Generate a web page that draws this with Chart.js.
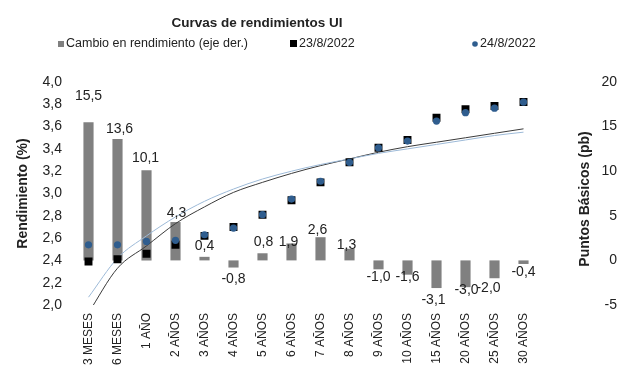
<!DOCTYPE html>
<html>
<head>
<meta charset="utf-8">
<script src="https://cdn.jsdelivr.net/npm/chart.js@4"></script>
<style>
  html, body { margin: 0; padding: 0; background: #fff; }
  #wrap { width: 617px; height: 379px; position: relative; }
</style>
</head>
<body>
<div id="wrap"><canvas id="curveChart"></canvas></div>
<script>
// plazos
const categories = ['3 MESES', '6 MESES', '1 AÑO', '2 AÑOS', '3 AÑOS', '4 AÑOS', '5 AÑOS', '6 AÑOS',
    '7 AÑOS', '8 AÑOS', '9 AÑOS', '10 AÑOS', '15 AÑOS', '20 AÑOS', '25 AÑOS', '30 AÑOS'];

// cambio en rendimiento (pb, eje derecho)
const changeBp = [15.5, 13.6, 10.1, 4.3, 0.4, -0.8, 0.8, 1.9, 2.6, 1.3, -1.0, -1.6, -3.1, -3.0, -2.0, -0.4];

// rendimientos (%)
const yield23 = [2.39, 2.41, 2.46, 2.54, 2.62, 2.70, 2.81, 2.94, 3.10, 3.28, 3.41, 3.48, 3.68, 3.755, 3.785, 3.82];
const yield24 = [2.54, 2.54, 2.57, 2.58, 2.63, 2.69, 2.81, 2.95, 3.11, 3.28, 3.41, 3.47, 3.65, 3.725, 3.765, 3.82];

// lineas de tendencia
const trend23 = [1.93, 2.33, 2.53, 2.73, 2.88, 3.01, 3.10, 3.18, 3.25, 3.31, 3.37, 3.42, 3.46, 3.50, 3.54, 3.58];
const trend24 = [2.07, 2.42, 2.62, 2.79, 2.93, 3.04, 3.13, 3.20, 3.26, 3.31, 3.36, 3.40, 3.44, 3.48, 3.52, 3.55];

// ticks
const leftTicks = [2.0, 2.2, 2.4, 2.6, 2.8, 3.0, 3.2, 3.4, 3.6, 3.8, 4.0];
const rightTicks = [-5, 0, 5, 10, 15, 20];

// separacion de etiquetas respecto al extremo de la barra (px)
const labelGap = [26, 10, 12, 9, 11, 12, 11, 1, 7, 4, 8, 2, 12, 3, 10, 8];
const labelShiftX = [0, 2, -1, 1, 0, 0, 1, -3, -3, -3, 0, 0, -3, 1, -6, 0];

const fmt = v => v.toFixed(1).replace('.', ',');
const FONT = 'Liberation Sans, Arial, sans-serif';
const TEXT = '#222';

const barLabels = {
    id: 'barLabels',
    afterDatasetsDraw(chart) {
        const idx = chart.data.datasets.findIndex(d => d.type === 'bar');
        const meta = chart.getDatasetMeta(idx);
        const ctx = chart.ctx;
        ctx.save();
        ctx.font = '14px ' + FONT;
        ctx.fillStyle = TEXT;
        ctx.textAlign = 'center';
        ctx.textBaseline = 'middle';
        meta.data.forEach((bar, i) => {
            const v = changeBp[i];
            const y = v >= 0 ? bar.y - labelGap[i] : bar.y + labelGap[i];
            ctx.fillText(fmt(v), bar.x + labelShiftX[i], y);
        });
        ctx.restore();
    }
};

const header = {
    id: 'header',
    afterDraw(chart) {
        const ctx = chart.ctx;
        ctx.save();
        ctx.fillStyle = TEXT;
        ctx.textBaseline = 'middle';
        ctx.textAlign = 'center';
        ctx.font = 'bold 13.5px ' + FONT;
        ctx.fillText('Curvas de rendimientos UI', 257, 23);

        // right axis title, reading bottom to top
        ctx.save();
        ctx.translate(585, 199);
        ctx.rotate(-Math.PI / 2);
        ctx.font = 'bold 14px ' + FONT;
        ctx.fillText('Puntos Básicos (pb)', 0, 0);
        ctx.restore();

        ctx.textAlign = 'left';
        ctx.font = '12.5px ' + FONT;
        // legend
        ctx.fillStyle = '#808080';
        ctx.fillRect(58, 41, 6, 6);
        ctx.fillStyle = TEXT;
        ctx.fillText('Cambio en rendimiento (eje der.)', 66, 44);

        ctx.fillStyle = '#000';
        ctx.fillRect(290, 40, 7, 7);
        ctx.fillStyle = TEXT;
        ctx.fillText('23/8/2022', 299, 44);

        ctx.fillStyle = '#2F5D8E';
        ctx.beginPath();
        ctx.arc(475, 44, 2.8, 0, Math.PI * 2);
        ctx.fill();
        ctx.fillStyle = TEXT;
        ctx.fillText('24/8/2022', 480, 44);
        ctx.restore();
    }
};

new Chart(document.getElementById('curveChart'), {
    data: {
        labels: categories,
        datasets: [
            {
                type: 'line',
                label: '24/8/2022',
                data: yield24,
                yAxisID: 'y',
                showLine: false,
                pointStyle: 'circle',
                pointRadius: 3.6,
                pointBackgroundColor: '#2F5D8E',
                pointBorderWidth: 0,
                order: 1
            },
            {
                type: 'line',
                label: '23/8/2022',
                data: yield23,
                yAxisID: 'y',
                showLine: false,
                pointStyle: 'rect',
                pointRadius: 5.6,
                pointBackgroundColor: '#000',
                pointBorderWidth: 0,
                order: 2
            },
            {
                type: 'line',
                label: 'Tendencia 23/8',
                data: trend23,
                yAxisID: 'y',
                borderColor: '#3a3a3a',
                borderWidth: 1,
                pointRadius: 0,
                cubicInterpolationMode: 'monotone',
                order: 4
            },
            {
                type: 'line',
                label: 'Tendencia 24/8',
                data: trend24,
                yAxisID: 'y',
                borderColor: '#9DBAD8',
                borderWidth: 1,
                pointRadius: 0,
                cubicInterpolationMode: 'monotone',
                order: 3
            },
            {
                type: 'bar',
                label: 'Cambio en rendimiento (eje der.)',
                data: changeBp,
                yAxisID: 'y1',
                backgroundColor: '#808080',
                categoryPercentage: 1,
                barPercentage: 0.35,
                order: 10
            }
        ]
    },
    options: {
        responsive: true,
        maintainAspectRatio: false,
        animation: false,
        layout: { padding: { top: 82, left: 0, right: 0, bottom: 0 } },
        plugins: {
            legend: { display: false },
            title: { display: false },
            tooltip: { enabled: false }
        },
        scales: {
            x: {
                grid: { display: false, drawTicks: false },
                border: { display: false },
                ticks: {
                    color: TEXT,
                    font: { family: FONT, size: 12 },
                    minRotation: 90,
                    maxRotation: 90,
                    autoSkip: false,
                    padding: 8
                },
                afterFit: s => { s.height = 74; }
            },
            y: {
                position: 'left',
                min: 2,
                max: 4,
                grid: { display: false, drawTicks: false },
                border: { display: false },
                afterBuildTicks: s => { s.ticks = leftTicks.map(v => ({ value: v })); },
                ticks: {
                    color: TEXT,
                    font: { family: FONT, size: 14 },
                    padding: 12,
                    callback: v => fmt(v)
                },
                title: {
                    display: true,
                    text: 'Rendimiento (%)',
                    color: TEXT,
                    font: { family: FONT, size: 14, weight: 'bold' },
                    padding: { top: 15, bottom: 0 }
                },
                afterFit: s => { s.width = 74; }
            },
            y1: {
                position: 'right',
                min: -5,
                max: 20,
                grid: { display: false, drawTicks: false },
                border: { display: false },
                afterBuildTicks: s => { s.ticks = rightTicks.map(v => ({ value: v })); },
                ticks: {
                    color: TEXT,
                    font: { family: FONT, size: 14 },
                    padding: 11,
                    crossAlign: 'far',
                    callback: v => String(v)
                },
                afterFit: s => { s.width = 79; }
            }
        }
    },
    plugins: [barLabels, header]
});
</script>
</body>
</html>
